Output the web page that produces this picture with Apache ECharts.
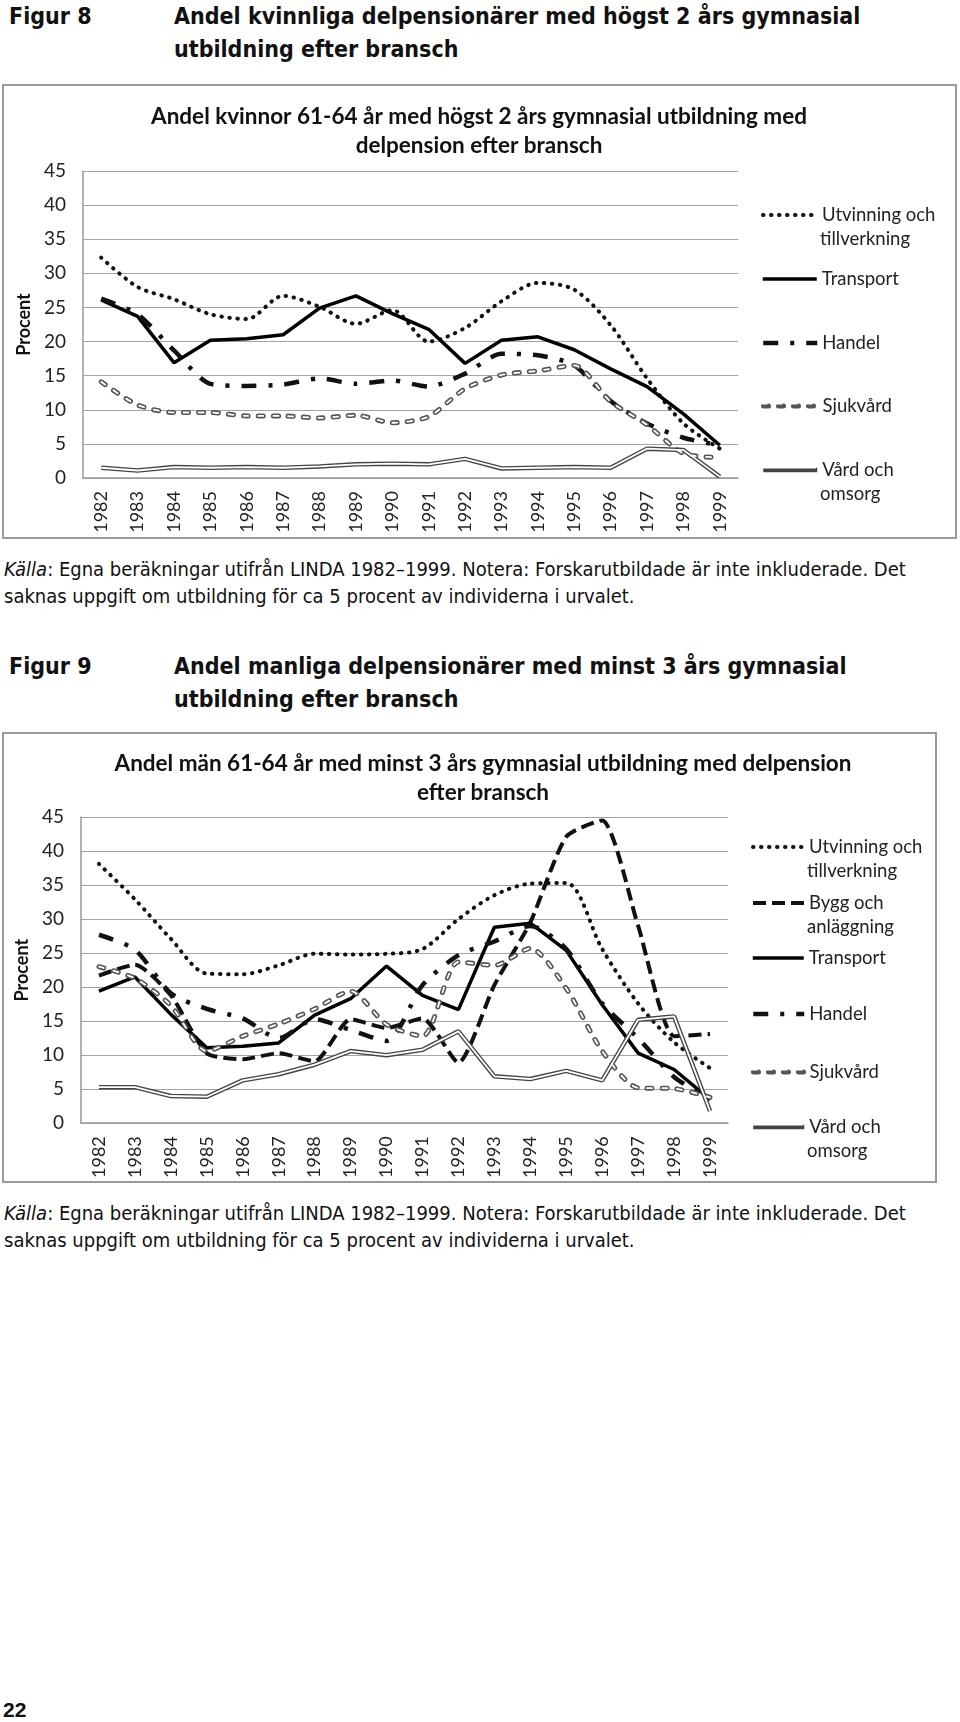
<!DOCTYPE html>
<html>
<head>
<meta charset="utf-8">
<script src="https://cdn.jsdelivr.net/npm/echarts@6/dist/echarts.min.js"></script>
<style>
  body { margin: 0; width: 960px; height: 1722px; background: #fff; position: relative; overflow: hidden; }
  .head, .cap, .pagenr { position: absolute; color: #111; white-space: nowrap; }
  .head { font-family: "Liberation Sans Narrow", "DejaVu Sans Condensed", sans-serif; font-weight: bold; font-size: 23px; line-height: 33px; }
  .cap { font-family: "Liberation Sans Narrow", "DejaVu Sans Condensed", sans-serif; font-size: 20px; line-height: 27px; }
  .pagenr { font-family: "Liberation Sans", sans-serif; font-weight: bold; font-size: 21px; }
  .box { position: absolute; border: 2px solid #999; }
</style>
</head>
<body>
<div class="head" style="left:9px;top:0px">Figur 8</div>
<div class="head" style="left:174px;top:0px">Andel kvinnliga delpensionärer med högst 2 års gymnasial<br>utbildning efter bransch</div>
<div class="box" id="chart1" style="left:2px;top:84px;width:951px;height:451px"></div>
<div class="cap" style="left:4px;top:556px"><i>Källa</i>: Egna beräkningar utifrån LINDA 1982–1999. Notera: Forskarutbildade är inte inkluderade. Det<br>saknas uppgift om utbildning för ca 5 procent av individerna i urvalet.</div>

<div class="head" style="left:9px;top:650px">Figur 9</div>
<div class="head" style="left:174px;top:650px">Andel manliga delpensionärer med minst 3 års gymnasial<br>utbildning efter bransch</div>
<div class="box" id="chart2" style="left:2px;top:732px;width:931px;height:447px"></div>
<div class="cap" style="left:4px;top:1200px"><i>Källa</i>: Egna beräkningar utifrån LINDA 1982–1999. Notera: Forskarutbildade är inte inkluderade. Det<br>saknas uppgift om utbildning för ca 5 procent av individerna i urvalet.</div>

<div class="pagenr" style="left:3px;top:1698px">22</div>

<script>
const years = ['1982', '1983', '1984', '1985', '1986', '1987', '1988', '1989', '1990',
  '1991', '1992', '1993', '1994', '1995', '1996', '1997', '1998', '1999']
const yTicks = { min: 0, max: 45, interval: 5 }

// Figur 8, kvinnor
const kUtvinning = [32.3, 28.0, 26.2, 24.0, 23.3, 26.7, 25.1, 22.6, 24.6, 20.0, 22.0, 25.9, 28.6, 27.6, 22.4, 14.6, 8.0, 4.3]
const kTransport = [26.1, 23.7, 16.9, 20.2, 20.4, 21.0, 24.9, 26.7, 24.1, 21.8, 16.8, 20.2, 20.7, 18.8, 16.0, 13.4, 9.4, 4.8]
const kHandel = [26.3, 24.0, 18.7, 13.8, 13.5, 13.7, 14.6, 13.8, 14.3, 13.4, 15.3, 18.2, 18.0, 16.5, 11.3, 8.0, 5.9, 4.8]
const kSjukvard = [14.1, 10.7, 9.6, 9.6, 9.1, 9.1, 8.8, 9.2, 8.1, 9.0, 13.1, 15.1, 15.7, 16.5, 11.2, 7.8, 3.6, 3.0]
const kVard = [1.5, 1.1, 1.6, 1.5, 1.6, 1.5, 1.7, 2.0, 2.1, 2.0, 2.8, 1.4, 1.5, 1.6, 1.5, 4.3, 4.1, 0.2]

// Figur 9, män
const mUtvinning = [38.1, 32.9, 27.1, 22.0, 21.9, 23.2, 24.9, 24.8, 24.9, 25.6, 30.0, 33.5, 35.2, 35.3, 25.6, 17.6, 11.9, 8.1]
const mBygg = [21.7, 23.3, 18.8, 10.3, 9.4, 10.3, 9.1, 15.3, 14.0, 15.4, 8.9, 20.3, 29.5, 42.1, 44.5, 29.0, 12.8, 13.1]
const mTransport = [19.4, 21.5, 16.0, 11.1, 11.3, 11.8, 15.9, 18.3, 23.1, 18.8, 16.7, 28.8, 29.4, 25.4, 17.4, 10.3, 7.9, 3.5]
const mHandel = [27.7, 25.5, 19.1, 16.8, 15.4, 12.5, 15.3, 13.7, 12.1, 20.3, 24.7, 26.7, 29.0, 25.6, 17.6, 12.5, 6.8, 3.5]
const mSjukvard = [23.0, 21.3, 17.3, 10.6, 12.8, 14.6, 16.8, 19.4, 14.5, 12.8, 23.7, 23.2, 25.7, 19.8, 10.6, 5.2, 5.1, 3.8]
const mVard = [5.3, 5.3, 4.0, 3.9, 6.3, 7.2, 8.6, 10.6, 10.0, 10.8, 13.5, 6.9, 6.5, 7.7, 6.3, 15.2, 15.7, 1.8]

const FONT = 'Lato'
const LEGEND_SIZE = 18.5

// line looks per bransch
const styles = {
  'Utvinning och tillverkning': { color: '#111', width: 4, type: [0.5, 7.5], cap: 'round', smooth: 0.3 },
  'Bygg och anläggning': { color: '#111', width: 4, type: [13, 6], cap: 'butt', smooth: 0.2 },
  'Transport': { color: '#000', width: 3.5, type: 'solid', cap: 'butt', smooth: false },
  'Handel': { color: '#111', width: 4.5, type: [15, 12, 4, 12], cap: 'butt', smooth: 0.25 },
  'Sjukvård': { color: '#555', width: 5, type: [5, 10], cap: 'round', smooth: 0.25, inner: 1.8 },
  'Vård och omsorg': { color: '#444', width: 4.5, type: 'solid', cap: 'butt', smooth: false, inner: 1.8 }
}

function makeSeries(name, data) {
  const s = styles[name]
  const out = [{
    name: name,
    type: 'line',
    data: data,
    symbol: 'none',
    smooth: s.smooth,
    lineStyle: { color: s.color, width: s.width, type: s.type, cap: s.cap },
    itemStyle: { color: s.color },
    emphasis: { disabled: true },
    z: 2
  }]
  if (s.inner) {
    // white core on top gives the double-line look
    out.push({
      name: name + ' (inner)',
      type: 'line',
      data: data,
      symbol: 'none',
      smooth: s.smooth,
      lineStyle: { color: '#fff', width: s.inner, type: s.type, cap: s.cap },
      itemStyle: { color: '#fff' },
      emphasis: { disabled: true },
      silent: true,
      z: 3
    })
  }
  return out
}

function makeChart(el, cfg) {
  const chart = echarts.init(el, null, { renderer: 'canvas' })
  let series = []
  cfg.lines.forEach(l => { series = series.concat(makeSeries(l[0], l[1])) })
  const textX = cfg.legendLeft + cfg.iconWidth + 5
  const legends = []
  const extra = []
  cfg.lines.forEach((l, i) => {
    const s = styles[l[0]]
    const parts = l[0].split(' och ')
    const base = {
      left: cfg.legendLeft,
      top: cfg.legendY[i] - 12,
      padding: 0,
      itemWidth: cfg.iconWidth,
      itemHeight: 24,
      selectedMode: false,
      itemStyle: { opacity: 0 },
      textStyle: { fontFamily: FONT, fontSize: LEGEND_SIZE, color: '#222', lineHeight: 24 }
    }
    legends.push(Object.assign({}, base, {
      data: [l[0]],
      lineStyle: { width: s.width },
      formatter: n => (parts.length > 1 ? parts[0] + ' och' : n)
    }))
    if (s.inner) {
      // icon only, laid over the outer one
      legends.push(Object.assign({}, base, {
        data: [l[0] + ' (inner)'],
        lineStyle: { width: s.inner },
        formatter: () => ''
      }))
    }
    if (parts.length > 1) {
      // second line of the legend label
      extra.push({
        type: 'text',
        x: textX,
        y: cfg.legendY[i] + 24,
        style: { text: parts[1], fill: '#222', font: LEGEND_SIZE + 'px ' + FONT, verticalAlign: 'middle' }
      })
    }
  })
  chart.setOption({
    animation: false,
    title: {
      text: cfg.title,
      left: cfg.titleX,
      top: cfg.titleTop,
      textAlign: 'center',
      padding: 0,
      textStyle: { fontFamily: FONT, fontSize: 22.5, fontWeight: 'bold', color: '#111', lineHeight: 29 }
    },
    legend: legends,
    graphic: extra,
    grid: cfg.grid,
    xAxis: {
      type: 'category',
      data: years,
      boundaryGap: true,
      axisTick: { show: false },
      axisLine: { lineStyle: { color: '#999', width: 1.5 } },
      axisLabel: { rotate: 90, fontFamily: FONT, fontSize: 18, color: '#222', margin: 13 }
    },
    yAxis: {
      type: 'value',
      min: yTicks.min,
      max: yTicks.max,
      interval: yTicks.interval,
      name: 'Procent',
      nameLocation: 'middle',
      nameRotate: 90,
      nameGap: 50,
      nameTextStyle: { fontFamily: FONT, fontSize: 18, fontWeight: 'bold', color: '#111' },
      axisLine: { show: true, lineStyle: { color: '#999', width: 1.5 } },
      axisTick: { show: false },
      splitLine: { lineStyle: { color: '#a3a3a3', width: 1.2 } },
      axisLabel: { fontFamily: FONT, fontSize: 19, color: '#222', margin: 17 }
    },
    series: series
  })
  return chart
}

makeChart(document.getElementById('chart1'), {
  title: 'Andel kvinnor 61-64 år med högst 2 års gymnasial utbildning med\ndelpension efter bransch',
  titleX: 475,
  titleTop: 16,
  grid: { left: 79, right: 217, top: 85, bottom: 59 },
  legendLeft: 757,
  iconWidth: 54,
  legendY: [129, 193, 257, 320, 384],
  lines: [
    ['Utvinning och tillverkning', kUtvinning],
    ['Transport', kTransport],
    ['Handel', kHandel],
    ['Sjukvård', kSjukvard],
    ['Vård och omsorg', kVard]
  ]
})

makeChart(document.getElementById('chart2'), {
  title: 'Andel män 61-64 år med minst 3 års gymnasial utbildning med delpension\nefter bransch',
  titleX: 479,
  titleTop: 15,
  grid: { left: 77, right: 207, top: 83, bottom: 55 },
  legendLeft: 747,
  iconWidth: 51,
  legendY: [113, 169, 224, 280, 338, 393],
  lines: [
    ['Utvinning och tillverkning', mUtvinning],
    ['Bygg och anläggning', mBygg],
    ['Transport', mTransport],
    ['Handel', mHandel],
    ['Sjukvård', mSjukvard],
    ['Vård och omsorg', mVard]
  ]
})
</script>
</body>
</html>
